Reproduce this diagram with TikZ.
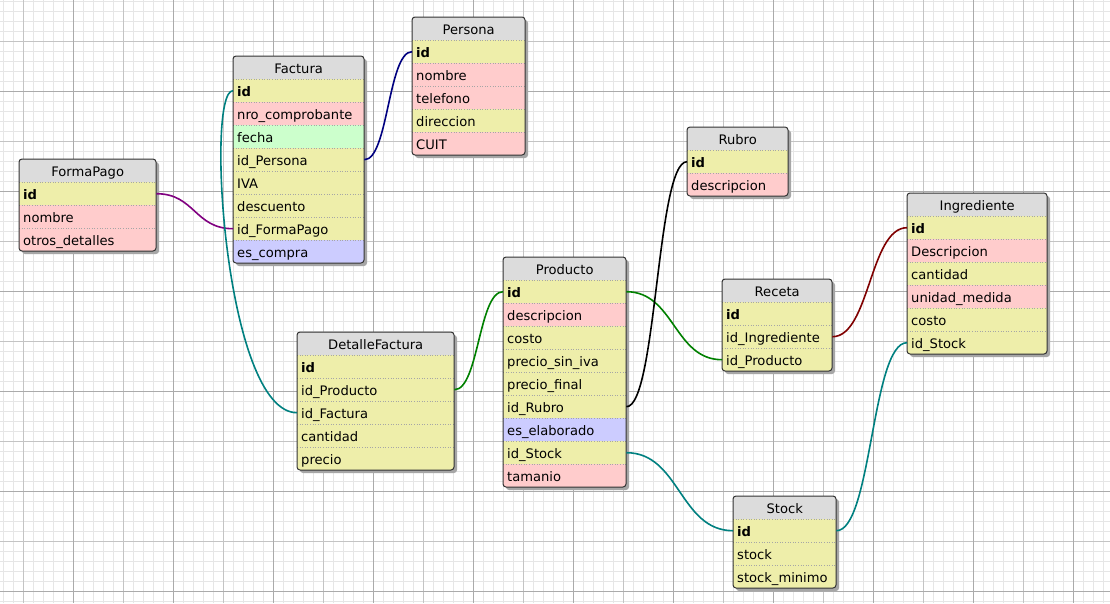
\documentclass[tikz,border=0pt]{standalone}
\usepackage{fontspec}
\setmainfont{DejaVu Sans}
\usetikzlibrary{calc}
\definecolor{fy}{HTML}{EEEEAA}
\definecolor{fp}{HTML}{FFCCCC}
\definecolor{fg}{HTML}{CCFFCC}
\definecolor{fb}{HTML}{CCCCFF}
\definecolor{hdrc}{HTML}{DCDCDC}
\definecolor{gminor}{HTML}{E6E6E6}
\definecolor{gmajor}{HTML}{C4C4C4}
\definecolor{gmajor2}{HTML}{ABABAB}
\definecolor{cnavy}{HTML}{000080}
\definecolor{cpurple}{HTML}{800080}
\definecolor{cteal}{HTML}{008080}
\definecolor{cgreen}{HTML}{008000}
\definecolor{cred}{HTML}{800000}
\tikzset{
  hdr/.style={fill=hdrc, minimum height=23pt, inner sep=0pt, text height=12pt, text depth=1pt, font=\fontsize{13.1}{15}\selectfont},
  fld/.style={minimum height=23pt, inner xsep=4pt, inner ysep=0pt, align=left, text height=12pt, text depth=1pt, font=\fontsize{13.1}{15}\selectfont},
  sep/.style={gray!70, dotted, line width=0.6pt},
  boxline/.style={draw=black!80, line width=1pt},
  shadowc/.style={fill=black!35},
  conn/.style={line width=1.6pt},
}
\newcommand{\dbtable}[7]{%
  \pgfmathsetmacro{\tb}{#3+23*(#5+1)}%
  \pgfmathsetmacro{\tww}{#4-8}%
  \fill[shadowc, rounded corners=3pt] (#2+3,#3+3) rectangle (#2+#4+3,\tb+3);
  \begin{scope}
    \clip[rounded corners=3pt] (#2,#3) rectangle (#2+#4,\tb);
    \node[hdr, minimum width=#4 pt, anchor=north west] (#1-h) at (#2,#3) {#6};
    \foreach \c/\f [count=\i] in {#7} {
      \node[fld, fill=\c, text width=\tww pt, anchor=north west] (#1-\i) at (#2,#3+23*\i) {\f};
      \draw[sep] (#2,#3+23*\i) -- ++(#4,0);
    }
  \end{scope}
  \draw[boxline, rounded corners=3pt] (#2,#3) rectangle (#2+#4,\tb);
}
\newcommand{\rl}[3]{% right side to left side S-curve
  \draw[conn,#3] let \p1=(#1), \p2=(#2) in (\p1) .. controls ({(\x1+\x2)/2},\y1) and ({(\x1+\x2)/2},\y2) .. (\p2);
}
\begin{document}
\begin{tikzpicture}[x=1pt,y=-1pt]
\useasboundingbox (0,0) rectangle (1110,603);
\fill[white] (0,0) rectangle (1110,603);
% grid
\foreach \x in {3,13,...,1103} \draw[gminor, line width=1pt] (\x,0) -- (\x,603);
\foreach \y in {1,11,...,601} \draw[gminor, line width=1pt] (0,\y) -- (1110,\y);
\foreach \x in {23,123,...,1023} \draw[gmajor, line width=1pt] (\x,0) -- (\x,603);
\foreach \y in {41,141,...,541} \draw[gmajor, line width=1pt] (0,\y) -- (1110,\y);
\foreach \x in {73,173,...,1073} \draw[gmajor2, line width=1pt] (\x,0) -- (\x,603);
\foreach \y in {91,191,...,591} \draw[gmajor2, line width=1pt] (0,\y) -- (1110,\y);

% tables
\dbtable{Factura}{233}{56}{131}{8}{Factura}{fy/\textbf{id}, fp/nro\_comprobante, fg/fecha, fy/id\_Persona, fy/IVA, fy/descuento, fy/id\_FormaPago, fb/es\_compra}
\dbtable{Persona}{412}{17}{113}{5}{Persona}{fy/\textbf{id}, fp/nombre, fp/telefono, fy/direccion, fp/CUIT}
\dbtable{FormaPago}{19}{159}{137}{3}{FormaPago}{fy/\textbf{id}, fp/nombre, fp/otros\_detalles}
\dbtable{DetalleFactura}{297}{332}{157}{5}{DetalleFactura}{fy/\textbf{id}, fy/id\_Producto, fy/id\_Factura, fy/cantidad, fy/precio}
\dbtable{Producto}{503}{257}{123}{9}{Producto}{fy/\textbf{id}, fp/descripcion, fy/costo, fy/precio\_sin\_iva, fy/precio\_final, fy/id\_Rubro, fb/es\_elaborado, fy/id\_Stock, fp/tamanio}
\dbtable{Rubro}{687}{127}{101}{2}{Rubro}{fy/\textbf{id}, fp/descripcion}
\dbtable{Receta}{722}{279}{110}{3}{Receta}{fy/\textbf{id}, fy/id\_Ingrediente, fy/id\_Producto}
\dbtable{Ingrediente}{907}{193}{140}{6}{Ingrediente}{fy/\textbf{id}, fp/Descripcion, fy/cantidad, fp/unidad\_medida, fy/costo, fy/id\_Stock}
\dbtable{Stock}{733}{496}{103}{3}{Stock}{fy/\textbf{id}, fy/stock, fy/stock\_minimo}

% connectors
\rl{Factura-4.east}{Persona-1.west}{cnavy}
\rl{FormaPago-1.east}{Factura-7.west}{cpurple}
\rl{DetalleFactura-2.east}{Producto-1.west}{cgreen}
\rl{Producto-1.east}{Receta-3.west}{cgreen}
\rl{Producto-6.east}{Rubro-1.west}{black}
\rl{Receta-2.east}{Ingrediente-1.west}{cred}
\rl{Producto-8.east}{Stock-1.west}{cteal}
\rl{Stock-1.east}{Ingrediente-6.west}{cteal}
\draw[conn, cteal] (Factura-1.west) .. controls +(-28,0) and +(-72,0) .. (DetalleFactura-3.west);
\end{tikzpicture}
\end{document}
